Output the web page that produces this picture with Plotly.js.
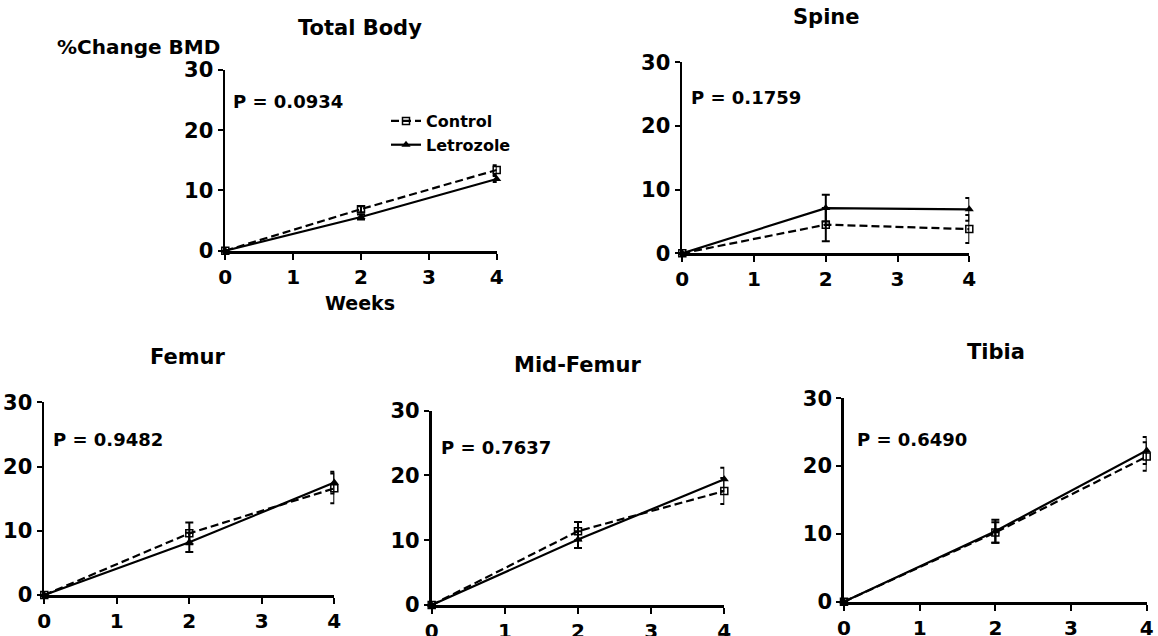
<!DOCTYPE html>
<html>
<head>
<meta charset="utf-8">
<script src="https://cdn.plot.ly/plotly-3.0.1.min.js"></script>
<style>html,body{margin:0;padding:0;background:#fff;}#chart{width:1158px;height:636px;}</style>
</head>
<body>
<div id="chart"></div>
<script>
// ---- data ----
const weeks = [0, 2, 4];
const panelNames = ["Total Body", "Spine", "Femur", "Mid-Femur", "Tibia"];
const pValues = ["P = 0.0934", "P = 0.1759", "P = 0.9482", "P = 0.7637", "P = 0.6490"];

const totalControl = [0, 6.9, 13.4];
const totalControlSem = [0, 0.5, 0.8];
const totalLetrozole = [0, 5.6, 11.9];
const totalLetrozoleSem = [0, 0.4, 0.5];

const spineControl = [0, 4.5, 3.8];
const spineControlSem = [0, 2.6, 2.2];
const spineLetrozole = [0, 7.1, 6.9];
const spineLetrozoleSem = [0, 2.1, 1.8];

const femurControl = [0, 9.6, 16.6];
const femurControlSem = [0, 1.7, 2.3];
const femurLetrozole = [0, 8.2, 17.5];
const femurLetrozoleSem = [0, 1.5, 1.7];

const midControl = [0, 11.4, 17.6];
const midControlSem = [0, 1.4, 2.0];
const midLetrozole = [0, 10.1, 19.4];
const midLetrozoleSem = [0, 1.3, 1.8];

const tibiaControl = [0, 10.2, 21.4];
const tibiaControlSem = [0, 1.5, 2.1];
const tibiaLetrozole = [0, 10.4, 22.3];
const tibiaLetrozoleSem = [0, 1.7, 2.0];

const xTicks = [0, 1, 2, 3, 4];
const yTicks = [0, 10, 20, 30];

// ---- layout geometry (pixels) ----
const W = 1158, H = 636;
const boxes = [
  {x0: 225.3, x1: 496.7, y0: 70.0, y1: 250.7},
  {x0: 682.3, x1: 969.3, y0: 62.3, y1: 253.3},
  {x0: 44.3, x1: 334.3, y0: 402.3, y1: 595.0},
  {x0: 431.7, x1: 724.3, y0: 410.7, y1: 605.0},
  {x0: 844.0, x1: 1146.7, y0: 398.3, y1: 601.7}
];
const titlePos = [[360, 28], [826, 17], [188, 357], [577, 365], [996, 352]];
const pPos = [[231, 102], [689, 97], [51, 439], [439, 448], [855, 439]];

const series = [
  [totalControl, totalControlSem, totalLetrozole, totalLetrozoleSem],
  [spineControl, spineControlSem, spineLetrozole, spineLetrozoleSem],
  [femurControl, femurControlSem, femurLetrozole, femurLetrozoleSem],
  [midControl, midControlSem, midLetrozole, midLetrozoleSem],
  [tibiaControl, tibiaControlSem, tibiaLetrozole, tibiaLetrozoleSem]
];

const FONT = "DejaVu Sans";
const traces = [];
const layout = {
  width: W, height: H,
  margin: {l: 0, r: 0, t: 0, b: 0},
  paper_bgcolor: "#fff", plot_bgcolor: "rgba(0,0,0,0)",
  font: {family: FONT, color: "#000", weight: "bold"},
  showlegend: true,
  legend: {
    x: 386 / W, y: 1 - 104 / H, xanchor: "left", yanchor: "top",
    bgcolor: "rgba(0,0,0,0)", font: {family: FONT, size: 16, color: "#000", weight: "bold"},
    itemwidth: 30, tracegroupgap: 0
  },
  annotations: []
};

series.forEach((s, i) => {
  const k = i === 0 ? "" : String(i + 1);
  const xa = "x" + k, ya = "y" + k;
  const b = boxes[i];
  layout["xaxis" + k] = {
    domain: [b.x0 / W, b.x1 / W], anchor: ya, range: [0, 4],
    tickvals: xTicks, ticktext: xTicks.map(String),
    showline: true, linecolor: "#000", linewidth: 2.8,
    ticks: "outside", ticklen: 6, tickwidth: 2, tickcolor: "#000",
    showgrid: false, zeroline: false, fixedrange: true,
    tickfont: {family: FONT, size: 20, color: "#000", weight: "bold"}
  };
  layout["yaxis" + k] = {
    domain: [1 - b.y1 / H, 1 - b.y0 / H], anchor: xa, range: [0, 30],
    tickvals: yTicks, ticktext: yTicks.map(String),
    showline: true, linecolor: "#000", linewidth: 2.8,
    ticks: "outside", ticklen: 5, tickwidth: 2, tickcolor: "#000",
    showgrid: false, zeroline: false, fixedrange: true,
    tickfont: {family: FONT, size: 21, color: "#000", weight: "bold"}
  };
  traces.push({
    type: "scatter", mode: "lines+markers", name: "Control",
    x: weeks, y: s[0], xaxis: xa, yaxis: ya, cliponaxis: false,
    showlegend: i === 0, legendgroup: "c",
    line: {color: "#000", width: 2.2, dash: "8px,4px"},
    marker: {symbol: "square-open", size: 7, color: "#000", line: {width: 1.5, color: "#000"}},
    error_y: {type: "data", array: s[1], visible: true, color: "#000", thickness: 2, width: 4}
  });
  traces.push({
    type: "scatter", mode: "lines+markers", name: "Letrozole",
    x: weeks, y: s[2], xaxis: xa, yaxis: ya, cliponaxis: false,
    showlegend: i === 0, legendgroup: "l",
    line: {color: "#000", width: 2.2},
    marker: {symbol: "triangle-up", size: 8, color: "#000"},
    error_y: {type: "data", array: s[3], visible: true, color: "#000", thickness: 2, width: 4}
  });
  layout.annotations.push({
    xref: "paper", yref: "paper", x: titlePos[i][0] / W, y: 1 - titlePos[i][1] / H,
    xanchor: "center", yanchor: "middle", showarrow: false,
    text: "<b>" + panelNames[i] + "</b>", font: {family: FONT, size: 21, color: "#000"}
  });
  layout.annotations.push({
    xref: "paper", yref: "paper", x: pPos[i][0] / W, y: 1 - pPos[i][1] / H,
    xanchor: "left", yanchor: "middle", showarrow: false,
    text: "<b>" + pValues[i] + "</b>", font: {family: FONT, size: 18, color: "#000"}
  });
});

layout.annotations.push({
  xref: "paper", yref: "paper", x: 138 / W, y: 1 - 47 / H,
  xanchor: "center", yanchor: "middle", showarrow: false,
  text: "<b>%Change BMD</b>", font: {family: FONT, size: 20, color: "#000"}
});
layout.annotations.push({
  xref: "paper", yref: "paper", x: 360 / W, y: 1 - 303 / H,
  xanchor: "center", yanchor: "middle", showarrow: false,
  text: "<b>Weeks</b>", font: {family: FONT, size: 19, color: "#000"}
});

Plotly.newPlot("chart", traces, layout, {displayModeBar: false, staticPlot: true});
</script>
</body>
</html>
